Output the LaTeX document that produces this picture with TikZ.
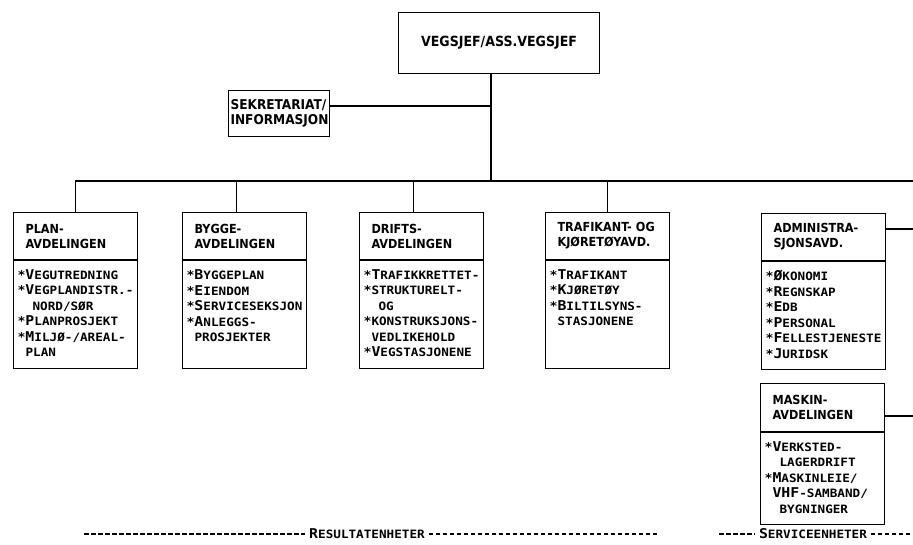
\documentclass[tikz,border=0pt]{standalone}
\usepackage{fontspec}
\setmainfont{DejaVu Sans Condensed Bold}
\newfontfamily\mono[FakeStretch=1.1]{DejaVu Sans Mono Bold}
\usetikzlibrary{positioning}

% stor forbokstav, resten mindre
\newcommand{\kap}[2]{{\fontsize{13.5}{15.5}\selectfont #1}{\fontsize{11.5}{15.5}\selectfont #2}}
\newcommand{\sm}[1]{{\fontsize{11.5}{15.5}\selectfont #1}}
\newcommand{\pk}[2]{*\kap{#1}{#2}}
\newcommand{\inn}{\hspace*{8pt}}
\newcommand{\innn}{\hspace*{15pt}}
\newcommand{\punkter}[2]{\parbox[t][#1][t]{124pt}{\raggedright\leftskip=4pt\vspace*{9pt}#2}}

\begin{document}
\begin{tikzpicture}[
  x=1pt, y=-1pt,
  line width=1.1pt,
  every node/.style={font=\fontsize{12.5}{15}\selectfont},
  kopf/.style={draw, anchor=north west, align=left, text width=100pt, inner xsep=12pt, minimum height=47pt},
  liste/.style={draw, inner sep=0pt, font=\mono\fontsize{12}{15.5}\selectfont},
  strek/.style={line width=1.3pt, dash pattern=on 4.5pt off 2.5pt}
]
\useasboundingbox (0,0) rectangle (913,544);

% Ledelse
\node[draw, anchor=north west, minimum width=201pt, minimum height=61pt, font=\fontsize{14}{16}\selectfont] (sjef) at (398,12) {VEGSJEF/ASS.VEGSJEF};
\node[draw, anchor=north west, align=left, text width=97pt, inner xsep=2pt, minimum height=46pt, font=\fontsize{13.5}{15}\selectfont] (sekr) at (228,90) {SEKRETARIAT/\\INFORMASJON};

% Avdelinger
\node[kopf] (plan) at (13,212) {PLAN-\\AVDELINGEN};
\node[liste, below=0pt of plan] (planL) {\punkter{108pt}{%
  \pk{V}{EGUTREDNING}\\
  \pk{V}{EGPLANDISTR.-}\\
  \innn\sm{NORD/SØR}\\
  \pk{P}{LANPROSJEKT}\\
  \pk{M}{ILJØ-/AREAL-}\\
  \inn\sm{PLAN}}};

\node[kopf] (bygge) at (182,212) {BYGGE-\\AVDELINGEN};
\node[liste, below=0pt of bygge] (byggeL) {\punkter{108pt}{%
  \pk{B}{YGGEPLAN}\\
  \pk{E}{IENDOM}\\
  \pk{S}{ERVICESEKSJON}\\
  \pk{A}{NLEGGS-}\\
  \inn\sm{PROSJEKTER}}};

\node[kopf] (drift) at (359,212) {DRIFTS-\\AVDELINGEN};
\node[liste, below=0pt of drift] (driftL) {\punkter{108pt}{%
  \pk{T}{RAFIKKRETTET-}\\
  \pk{}{STRUKTURELT-}\\
  \innn\sm{OG}\\
  \pk{}{KONSTRUKSJONS-}\\
  \inn\sm{VEDLIKEHOLD}\\
  \pk{V}{EGSTASJONENE}}};

\node[kopf] (trafikk) at (545,212) {TRAFIKANT- OG\\KJØRETØYAVD.};
\node[liste, below=0pt of trafikk] (trafikkL) {\punkter{108pt}{%
  \pk{T}{RAFIKANT}\\
  \pk{K}{JØRETØY}\\
  \pk{B}{ILTILSYNS-}\\
  \inn\sm{STASJONENE}}};

\node[kopf] (admin) at (761,213) {ADMINISTRA-\\SJONSAVD.};
\node[liste, below=0pt of admin] (adminL) {\punkter{108pt}{%
  \pk{Ø}{KONOMI}\\
  \pk{R}{EGNSKAP}\\
  \pk{E}{DB}\\
  \pk{P}{ERSONAL}\\
  \pk{F}{ELLESTJENESTE}\\
  \pk{J}{URIDSK}}};

\node[kopf, minimum height=48pt] (maskin) at (760,383) {MASKIN-\\AVDELINGEN};
\node[liste, below=0pt of maskin] (maskinL) {\punkter{92pt}{%
  \pk{V}{ERKSTED-}\\
  \innn\sm{LAGERDRIFT}\\
  \pk{M}{ASKINLEIE/}\\
  \inn\kap{VHF}{-SAMBAND/}\\
  \innn\sm{BYGNINGER}}};

% Linjer
\coordinate (bus) at (491,181);
\coordinate (hoyre) at (913,181);
\coordinate (sekrK) at (491,106);
\coordinate (kantA) at (913,229);
\coordinate (kantM) at (913,416);

\draw (sjef.south -| bus) -- (bus);
\draw (sekr.east |- sekrK) -- (sekrK);
\draw (plan.north) |- (hoyre);
\foreach \n/\dx in {bygge/-8, drift/-8, trafikk/0}
  \draw ([xshift=\dx pt]\n.north) -- ([xshift=\dx pt]\n.north |- bus);
\draw (admin.east |- kantA) -- (kantA);
\draw (maskin.east |- kantM) -- (kantM);

% Enheter
\node[font=\mono] (res) at (367,534) {\kap{R}{ESULTATENHETER}};
\coordinate (resV) at (84,534);
\coordinate (resH) at (658,534);
\draw[strek] (resV) -- (res.west);
\draw[strek] (res.east) -- (resH);

\node[font=\mono] (serv) at (813,534) {\kap{S}{ERVICEENHETER}};
\coordinate (servV) at (719,534);
\coordinate (servH) at (913,534);
\draw[strek] (servV) -- (serv.west);
\draw[strek] (serv.east) -- (servH);
\end{tikzpicture}
\end{document}
